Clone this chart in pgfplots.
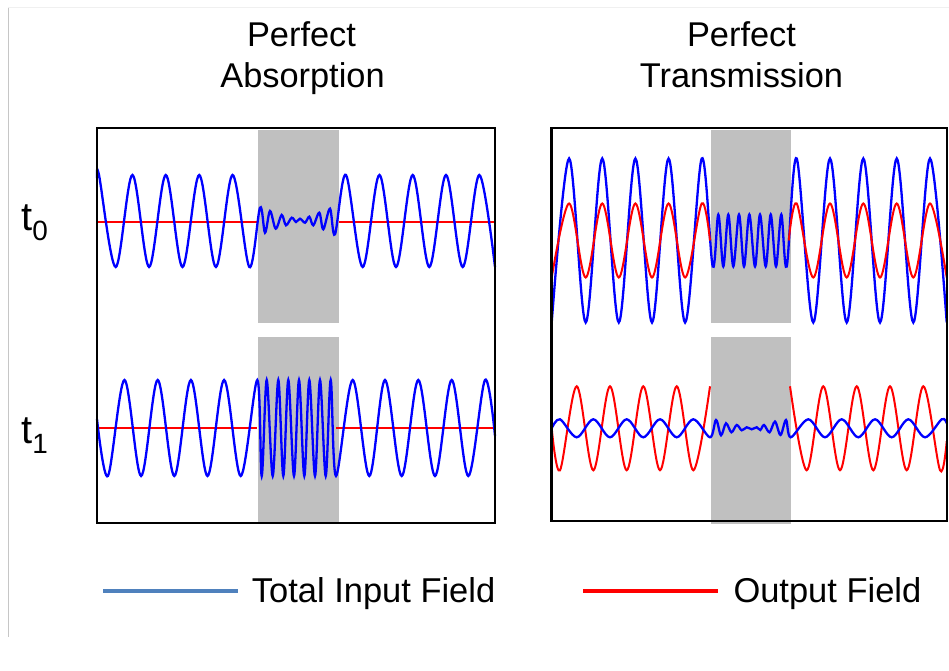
\documentclass[border=0pt]{standalone}
\usepackage{pgfplots}
\usepackage{pgfplotstable}
\pgfplotsset{compat=1.18}
\usepackage{fontspec}
\setmainfont{Liberation Sans}

\definecolor{wavegray}{RGB}{192,192,192}
\definecolor{legblue}{RGB}{79,129,189}

% Field crests and troughs (x in px from the panel's left edge,
% a = field value in px about the row's centre line).

% ---------- Perfect absorption, t0 ----------
\pgfplotstableread{
x a
0 43
2 46
18.7 -46
35.4 46
52.1 -46
68.8 46
85.5 -46
102.2 46
118.9 -46
135.6 46
152.3 -46
163 13.3
168 -11.7
173 10
178.7 -7.7
184.7 6
189 -4.3
194.7 3.3
199 -1
203 2.3
208 -1.7
212.3 4.3
216.3 -4.3
222.3 8.3
226.3 -8.3
233 12.3
238 -13.3
249 46
265.7 -46
282.4 46
299 -46
315.7 46
332.3 -46
349 46
365.7 -46
382.3 46
398 -46
}\absTzeroIn
\pgfplotstableread{
x a
0 0
161 0
}\absTzeroOutA
\pgfplotstableread{
x a
242 0
398 0
}\absTzeroOutB

% ---------- Perfect absorption, t1 ----------
\pgfplotstableread{
x a
0 9
10.9 -48
27.5 48
44.1 -48
60.7 48
77.3 -48
93.9 48
110.5 -48
127.1 48
143.7 -48
160.3 48
164.7 -48
169.7 48
175.7 -48
181.3 48
186.3 -48
191.3 48
197 -48
202 48
207.3 -48
212.3 48
218 -48
223 48
228.7 -48
233.7 48
239 -48
255.7 48
272.3 -48
288 48
304.7 -48
321.3 48
338 -48
354.7 48
371.3 -48
388 48
398 -8
}\absToneIn
\pgfplotstableread{
x a
0 0
159.7 0
}\absToneOutA
\pgfplotstableread{
x a
239 0
398 0
}\absToneOutB

% ---------- Perfect transmission, t0 ----------
\pgfplotstableread{
x a
0 -82
17.4 82
34 -82
50.55 82
67.1 -82
83.7 82
100.3 -82
116.85 82
133.4 -82
150 82
161 -26
166.6 26
171.6 -26
176.6 26
181.6 -26
187.3 26
192.3 -26
197.6 26
203.3 -26
208.3 26
214 -26
219 26
224.3 -26
229.6 26
235 -26
245 82
261.6 -82
278.3 82
295 -82
311.6 82
328.3 -82
345 82
361.6 -82
378.3 82
395 -82
}\traTzeroIn
\pgfplotstableread{
x a
0 -37
17.4 37
34 -37
50.55 37
67.1 -37
83.7 37
100.3 -37
116.85 37
133.4 -37
150 37
158.3 0
}\traTzeroOutA
\pgfplotstableread{
x a
237 0
245 37
261.6 -37
278.3 37
295 -37
311.6 37
328.3 -37
345 37
361.6 -37
378.3 37
395 -37
}\traTzeroOutB

% ---------- Perfect transmission, t1 ----------
\pgfplotstableread{
x a
0 0
8.3 9
25 -9
41.6 9
58.3 -9
75 9
91.6 -9
108.3 9
125 -9
141.6 9
158.3 -9
164.3 8.3
169.3 -7
174.3 5
179.7 -4
185 3.3
190 -2
195 1
200 -1
205 1
208.6 -1.7
212.3 3.3
217.8 -4
223.3 6.7
228.8 -6.7
234.3 8.3
239 -9
256.6 9
273.3 -9
290 9
306.6 -9
323.3 9
340 -9
356.6 9
373.3 -9
390 9
395 5
}\traToneIn
\pgfplotstableread{
x a
0 0
8.3 -42
25 42
41.6 -42
58.3 42
75 -42
91.6 42
108.3 -42
125 42
141.6 -42
158.3 42
}\traToneOutA
\pgfplotstableread{
x a
238.3 42
255 -42
271.6 42
288.3 -42
305 42
321.6 -42
338.3 42
355 -42
371.6 42
388.3 -42
395 -13
}\traToneOutB

\pgfplotsset{
  panel/.style={
    scale only axis,
    xtick=\empty, ytick=\empty,
    axis line style={line width=2.5bp, black},
    axis on top,
    clip=false,
  },
  infield/.style={blue, line width=2.3bp, smooth, tension=0.55, no markers},
  outfield/.style={red, line width=2bp, smooth, tension=0.55, no markers},
  slab/.style={fill=wavegray, draw=none, forget plot},
}

\begin{document}
\begin{tikzpicture}[x=1bp, y=1bp]
\path[use as bounding box] (0,0) rectangle (949,671);

% thin page edge lines
\draw[gray!45, line width=0.8bp] (8.3,664) -- (8.3,34);
\draw[gray!12, line width=0.8bp] (8.3,664) -- (949,664);

% column titles
\begin{scope}[font=\fontsize{34.5}{40}\selectfont]
\node[anchor=base] at (301.5,624.3) {Perfect};
\node[anchor=base] at (302.5,583.7) {Absorption};
\node[anchor=base] at (741.5,624.3) {Perfect};
\node[anchor=base] at (741.5,583.7) {Transmission};
\end{scope}

% row labels
\node[anchor=base west, inner sep=0pt, font=\fontsize{40}{48}\selectfont] at (21,440.3)
  {t\raisebox{-10bp}{\fontsize{28}{32}\selectfont 0}};
\node[anchor=base west, inner sep=0pt, font=\fontsize{40}{48}\selectfont] at (21,227)
  {t\raisebox{-10bp}{\fontsize{28}{32}\selectfont 1}};

% Perfect absorption panel
\begin{axis}[panel, at={(97,148)}, anchor=south west,
  width=398bp, height=395bp, xmin=0, xmax=398, ymin=0, ymax=395]
  \addplot[slab] coordinates {(161,200) (242,200) (242,393) (161,393)} -- cycle;
  \addplot[slab] coordinates {(161,0) (242,0) (242,186) (161,186)} -- cycle;
  \addplot[outfield] table[x=x, y expr=\thisrow{a}+301] {\absTzeroOutA};
  \addplot[outfield] table[x=x, y expr=\thisrow{a}+301] {\absTzeroOutB};
  \addplot[infield] table[x=x, y expr=\thisrow{a}+302] {\absTzeroIn};
  \addplot[outfield] table[x=x, y expr=\thisrow{a}+95] {\absToneOutA};
  \addplot[outfield] table[x=x, y expr=\thisrow{a}+95] {\absToneOutB};
  \addplot[infield] table[x=x, y expr=\thisrow{a}+95] {\absToneIn};
\end{axis}

% Perfect transmission panel
\begin{axis}[panel, at={(551.7,150)}, anchor=south west,
  width=395.3bp, height=393bp, xmin=0, xmax=395.3, ymin=0, ymax=393]
  \addplot[slab] coordinates {(159,198) (239,198) (239,391) (159,391)} -- cycle;
  \addplot[slab] coordinates {(159,-3) (239,-3) (239,184) (159,184)} -- cycle;
  \addplot[infield] table[x=x, y expr=\thisrow{a}+280.5] {\traTzeroIn};
  \addplot[outfield] table[x=x, y expr=\thisrow{a}+280.5] {\traTzeroOutA};
  \addplot[outfield] table[x=x, y expr=\thisrow{a}+280.5] {\traTzeroOutB};
  \addplot[outfield] table[x=x, y expr=\thisrow{a}+92.7] {\traToneOutA};
  \addplot[outfield] table[x=x, y expr=\thisrow{a}+92.7] {\traToneOutB};
  \addplot[infield] table[x=x, y expr=\thisrow{a}+92.7] {\traToneIn};
\end{axis}

% legend
\draw[legblue, line width=4bp] (103,79.5) -- (238,79.5);
\node[anchor=base west, inner sep=0pt, font=\fontsize{34.6}{40}\selectfont] at (251.7,68.3) {Total Input Field};
\draw[red, line width=4bp] (583,80) -- (718,80);
\node[anchor=base west, inner sep=0pt, font=\fontsize{34.6}{40}\selectfont] at (733.3,68.3) {Output Field};
\end{tikzpicture}
\end{document}
